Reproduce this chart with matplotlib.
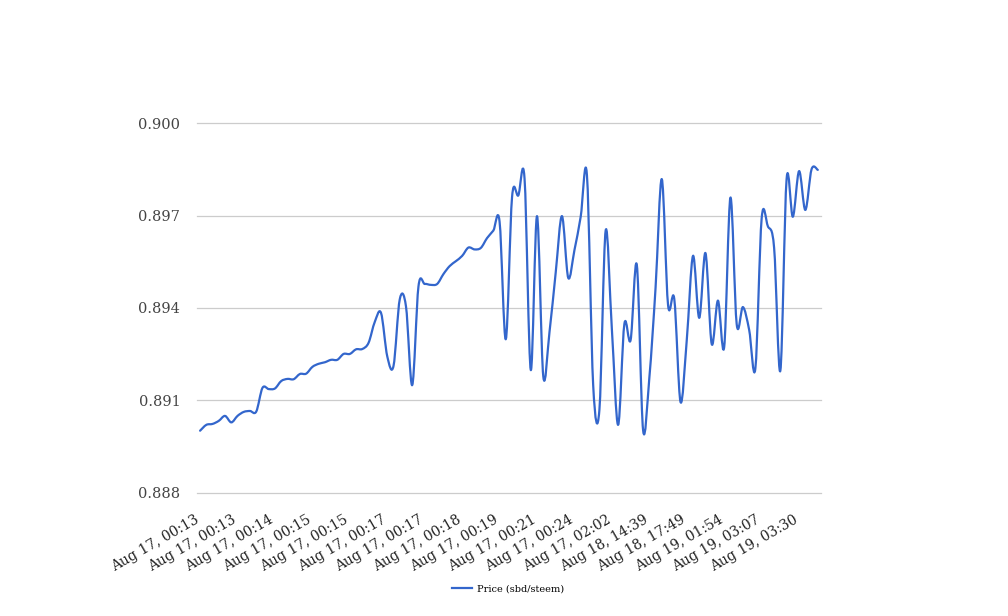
import matplotlib as mpl
mpl.use('Agg')
import matplotlib.pyplot as plt
import matplotlib.transforms as mtransforms
import numpy as np
from matplotlib.path import Path
from matplotlib.patches import PathPatch
from matplotlib.lines import Line2D
from matplotlib.ticker import FormatStrFormatter

# price readings, one per trade (category axis)
price = [
    0.89002, 0.89021, 0.89024, 0.89034, 0.89050, 0.89029, 0.89050, 0.89063, 0.89066, 0.89064,
    0.89141, 0.89137, 0.89139, 0.89163, 0.89170, 0.89169, 0.89186, 0.89187, 0.89209, 0.89219,
    0.89224, 0.89232, 0.89232, 0.89251, 0.89251, 0.89266, 0.89267, 0.89287, 0.89355, 0.89384,
    0.89243, 0.89212, 0.89428, 0.89405, 0.89150, 0.89470, 0.89478, 0.89475, 0.89478, 0.89510,
    0.89536, 0.89552, 0.89569, 0.89596, 0.89590, 0.89595, 0.89627, 0.89651, 0.89680, 0.89299,
    0.89760, 0.89765, 0.89820, 0.89199, 0.89698, 0.89179, 0.89322, 0.89516, 0.89698, 0.89498,
    0.89588, 0.89696, 0.89831, 0.89150, 0.89070, 0.89651, 0.89330, 0.89021, 0.89348, 0.89296,
    0.89539, 0.89004, 0.89173, 0.89466, 0.89818, 0.89410, 0.89429, 0.89095, 0.89296, 0.89569,
    0.89368, 0.89578, 0.89283, 0.89424, 0.89274, 0.89758, 0.89348, 0.89403, 0.89329, 0.89205,
    0.89690, 0.89665, 0.89595, 0.89197, 0.89818, 0.89696, 0.89844, 0.89718, 0.89850, 0.89848,
]

# every 6th category gets a label
tick_labels = [
    "Aug 17, 00:13", "Aug 17, 00:13", "Aug 17, 00:14", "Aug 17, 00:15", "Aug 17, 00:15",
    "Aug 17, 00:17", "Aug 17, 00:17", "Aug 17, 00:18", "Aug 17, 00:19", "Aug 17, 00:21",
    "Aug 17, 00:24", "Aug 17, 02:02", "Aug 18, 14:39", "Aug 18, 17:49", "Aug 19, 01:54",
    "Aug 19, 03:07", "Aug 19, 03:30",
]
LABEL_EVERY = 6

y_ticks = [0.888, 0.891, 0.894, 0.897, 0.900]

LINE_COLOR = "#3366cc"
FONT = "DejaVu Serif"


def smooth_path(xs, ys, k=1 / 6):
    """Catmull-Rom style bezier path through the points"""
    pts = np.column_stack([xs, ys])
    padded = np.vstack([pts[0], pts, pts[-1]])
    verts = [pts[0]]
    codes = [Path.MOVETO]
    for i in range(len(pts) - 1):
        p0, p1, p2, p3 = padded[i], padded[i + 1], padded[i + 2], padded[i + 3]
        verts += [p1 + (p2 - p0) * k, p2 - (p3 - p1) * k, p2]
        codes += [Path.CURVE4] * 3
    return Path(verts, codes)


fig = plt.figure(figsize=(10.08, 6.16), dpi=100)
ax = fig.add_axes([0.1954, 0.1997, 0.619, 0.6006])

x = np.arange(len(price))
ax.add_patch(PathPatch(smooth_path(x, np.array(price)), facecolor="none",
                       edgecolor=LINE_COLOR, linewidth=1.6, capstyle="round", joinstyle="round", zorder=3))

ax.set_xlim(-0.5, len(price) - 0.5)
ax.set_ylim(0.888, 0.900)
ax.set_yticks(y_ticks)
ax.yaxis.set_major_formatter(FormatStrFormatter('%.3f'))
ax.grid(axis="y", color="#cccccc", linewidth=0.9)
for line in ax.get_ygridlines():
    line.set_clip_on(False)
ax.set_axisbelow(True)
for side in ax.spines.values():
    side.set_visible(False)

ticks = x[::LABEL_EVERY][:len(tick_labels)]
ax.set_xticks(ticks)
ax.set_xticklabels(tick_labels, rotation=30, ha="right", va="top", rotation_mode="anchor",
                   fontsize=10, color="#222222", family=FONT)
ax.tick_params(axis="x", length=0, pad=14)
ax.tick_params(axis="y", length=0, pad=12, labelsize=10.5, labelcolor="#444444")
for lbl in ax.get_yticklabels():
    lbl.set_family(FONT)

# nudge slanted labels a little to the left, like the original
shift = mtransforms.ScaledTranslation(-0.06, 0, fig.dpi_scale_trans)
for lbl in ax.get_xticklabels():
    lbl.set_transform(lbl.get_transform() + shift)

handle = Line2D([], [], color=LINE_COLOR, linewidth=1.6)
fig.legend([handle], ["Price (sbd/steem)"], loc="center", bbox_to_anchor=(0.504, 0.044),
           frameon=False, prop={"family": FONT, "size": 7}, handlelength=2.0, handletextpad=0.5)

fig.savefig("out.png", dpi=100)
